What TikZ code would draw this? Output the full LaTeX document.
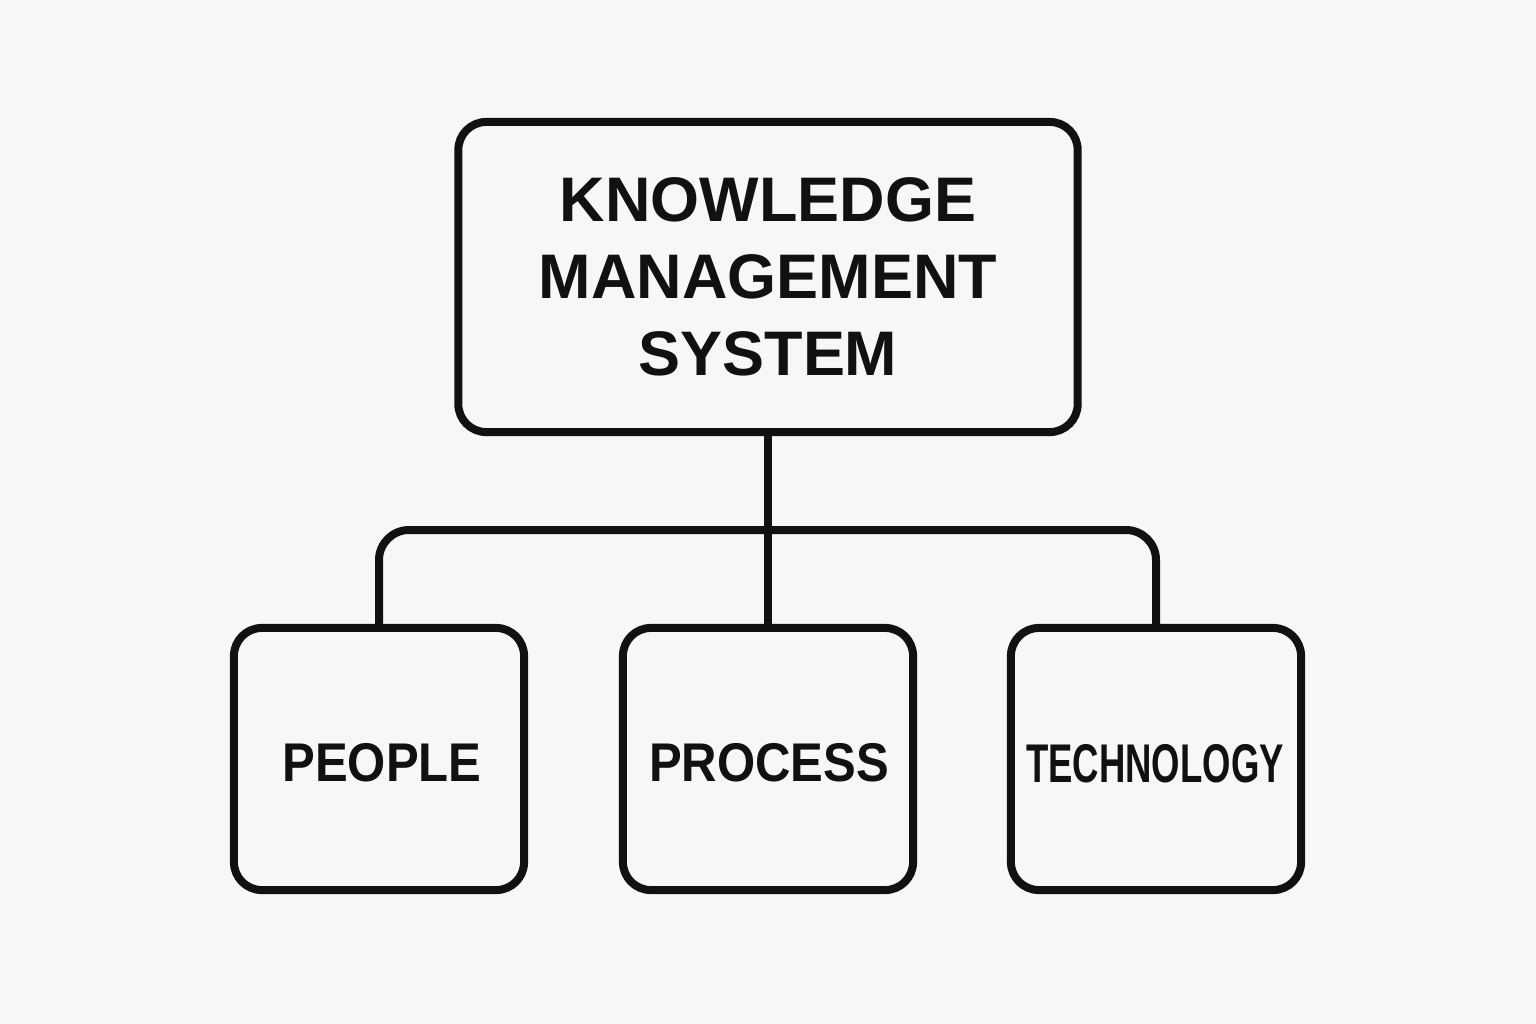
\documentclass[tikz,border=0pt]{standalone}
\usepackage{fontspec}
\setmainfont{Liberation Sans}
\usetikzlibrary{calc}
\definecolor{bg}{HTML}{F7F7F5}
\definecolor{ink}{HTML}{111111}
\tikzset{
  box/.style={draw=ink, line width=0.08cm, rounded corners=0.28cm, inner sep=0pt, fill=bg},
  topbox/.style={box, minimum width=6.19cm, minimum height=3.10cm, align=center,
    font=\fontsize{17.9}{21.9}\selectfont\bfseries, text=ink},
  subbox/.style={box, minimum width=2.90cm, minimum height=2.62cm,
    font=\fontsize{15.5}{18}\selectfont\bfseries, text=ink},
  link/.style={draw=ink, line width=0.08cm, rounded corners=0.3cm}
}
\begin{document}
\begin{tikzpicture}[x=0.01cm, y=-0.01cm]
\useasboundingbox[fill=bg] (0,0) rectangle (1536,1024);
\node[topbox] (kms) at (768,277) {KNOWLEDGE\\MANAGEMENT\\SYSTEM};
\node[subbox] (people) at (379,759) {};
\node[subbox] (process) at (768,759) {};
\node[subbox] (tech) at (1156,759) {};
\node[text=ink, font=\fontsize{15.5}{18}\selectfont\bfseries] (tpeople) at (382,763) {\scalebox{0.9}[1]{PEOPLE}};
\node[text=ink, font=\fontsize{15.5}{18}\selectfont\bfseries] (tprocess) at (769,763) {\scalebox{0.9}[1]{PROCESS}};
\node[text=ink, font=\fontsize{15.5}{18}\selectfont\bfseries] (ttech) at (1155,764) {\scalebox{0.67}[1]{TECHNOLOGY}};
\coordinate (mid) at ($(kms.south)!0.5!(process.north)$);
\draw[link] (kms.south) -- (process.north);
\draw[link] (people.north) |- (mid) -| (tech.north);
\end{tikzpicture}
\end{document}
